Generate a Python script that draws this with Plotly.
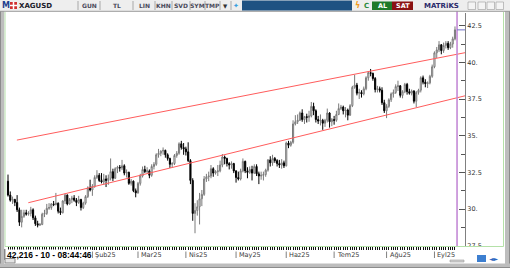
import plotly.graph_objects as go
import pandas as pd

# ---------------- data (XAGUSD daily) ----------------
dates = pd.bdate_range("2024-12-12", "2025-09-12")

opens = [31.90, 30.95, 30.60, 30.65, 30.45, 29.95, 29.10, 29.50, 29.75, 29.65, 29.70, 29.95, 29.40, 29.00,
         28.90, 28.95, 29.65, 29.70, 30.05, 30.10, 30.35, 30.30, 30.40, 29.85, 29.75, 30.55, 30.95, 30.35,
         30.65, 30.75, 30.60, 30.45, 30.65, 30.10, 30.40, 30.85, 31.45,
         31.30, 31.55, 32.15, 32.30, 31.95, 31.85, 32.05, 31.95, 32.10, 32.55, 32.10, 32.75, 32.85, 32.80,
         32.95, 32.45, 32.50, 31.75, 31.90, 31.25,
         31.10, 31.75, 32.25, 32.70, 32.55, 32.60, 32.30, 32.90, 33.05, 33.70, 33.80, 33.95, 34.00, 33.70,
         33.45, 33.05, 33.10, 33.65, 33.80, 34.45, 34.20,
         34.10, 33.90, 33.30, 31.95, 29.70, 29.90, 30.15, 30.70, 31.00, 32.05, 32.20, 32.25, 32.75, 32.45,
         32.55, 32.60, 33.00, 33.55, 33.45, 33.10, 33.00, 33.10,
         32.60, 32.15, 32.05, 32.60, 33.25, 32.60, 32.50, 32.70, 32.45, 32.90, 32.40, 32.25, 32.30, 32.35,
         32.65, 33.35, 33.15, 33.45, 33.30, 33.10, 33.00, 33.15,
         32.95, 34.50, 34.35, 34.55, 35.80, 35.95, 36.05, 36.55, 36.10, 36.30, 36.25, 36.35, 37.00, 36.70,
         36.10, 36.00, 36.05, 35.85, 36.05, 36.55, 35.95,
         36.10, 36.05, 36.45, 36.85, 36.95, 36.70, 36.75, 36.40, 37.05, 38.30, 38.45, 37.90, 37.95, 37.85,
         38.20, 38.95, 39.30, 39.25, 38.90, 38.15, 38.20, 38.10, 37.25,
         36.70, 37.00, 37.45, 37.85, 37.95, 38.35, 38.40, 37.75, 38.00, 38.50, 38.00, 37.90, 38.05, 37.35,
         37.95, 38.10, 38.95, 38.65, 38.55, 38.60, 39.05,
         39.70, 40.65, 40.85, 41.20, 40.80, 41.15, 41.30, 41.00, 41.25, 41.60]
highs = [32.35, 31.20, 30.85, 30.70, 30.95, 30.10, 29.95, 29.95, 29.95, 29.85, 30.15, 30.05, 29.55, 29.20,
         29.05, 29.75, 29.95, 30.35, 30.40, 30.40, 30.55, 31.10, 30.45, 30.10, 30.60, 31.05, 31.00, 30.75,
         30.90, 30.95, 30.75, 30.90, 30.70, 30.50, 30.95, 31.55, 32.00,
         31.70, 32.30, 32.65, 32.45, 32.45, 32.40, 32.30, 32.35, 33.45, 32.75, 32.85, 32.95, 33.00, 33.35,
         33.05, 32.70, 32.55, 32.05, 31.95, 31.40,
         31.85, 32.40, 32.90, 32.95, 32.85, 32.70, 33.05, 33.20, 33.80, 34.10, 34.00, 34.20, 34.05, 33.80,
         33.50, 33.20, 33.75, 33.95, 34.55, 34.65, 34.50,
         34.25, 34.55, 33.40, 32.10, 30.40, 30.60, 31.10, 31.30, 32.25, 32.40, 32.55, 33.00, 32.85, 32.65,
         33.00, 33.30, 33.75, 33.65, 33.50, 33.20, 33.25, 33.15,
         32.65, 32.55, 32.75, 33.45, 33.30, 32.85, 32.90, 32.95, 33.05, 33.05, 32.55, 32.55, 32.55, 32.75,
         33.40, 33.60, 33.70, 33.55, 33.40, 33.35, 33.40, 33.30,
         34.60, 34.65, 34.65, 36.05, 36.40, 36.45, 36.65, 36.80, 36.35, 36.50, 36.70, 37.30, 37.25, 36.80,
         36.35, 36.45, 36.15, 36.15, 36.85, 36.60, 36.20,
         36.35, 36.70, 37.20, 37.10, 37.05, 36.95, 36.85, 37.15, 38.40, 39.15, 38.60, 38.20, 38.10, 38.35,
         39.05, 39.40, 39.55, 39.30, 39.00, 38.40, 38.35, 38.30, 37.45,
         37.15, 37.55, 37.95, 38.15, 38.50, 38.75, 38.45, 38.10, 38.60, 38.60, 38.20, 38.15, 38.10, 38.05,
         38.20, 39.05, 39.10, 38.85, 38.70, 39.15, 39.85,
         40.75, 41.05, 41.45, 41.25, 41.35, 41.45, 41.45, 41.40, 41.75, 42.45]
lows = [30.85, 30.50, 30.35, 30.20, 29.80, 28.85, 28.75, 29.40, 29.55, 29.55, 29.50, 29.25, 28.85, 28.75,
        28.85, 28.90, 29.45, 29.60, 29.95, 29.95, 30.20, 30.25, 29.70, 29.60, 29.70, 30.35, 30.25, 30.30,
        30.40, 30.50, 30.20, 30.35, 29.90, 30.00, 30.30, 30.75, 31.20,
        30.90, 31.45, 32.05, 31.85, 31.75, 31.65, 31.50, 31.65, 31.95, 31.90, 32.05, 32.45, 32.55, 32.65,
        32.30, 32.15, 31.65, 31.60, 31.15, 30.80,
        31.05, 31.60, 32.15, 32.45, 32.40, 32.10, 32.20, 32.70, 32.95, 33.50, 33.60, 33.70, 33.50, 33.30,
        32.80, 32.85, 33.00, 33.50, 33.70, 34.05, 33.70,
        33.65, 33.20, 31.70, 29.20, 28.35, 29.55, 28.95, 30.20, 30.90, 31.85, 31.90, 32.10, 32.20, 32.35,
        32.25, 32.50, 32.85, 33.05, 32.90, 32.70, 32.75, 32.45,
        31.80, 31.95, 31.95, 32.50, 32.45, 32.10, 32.40, 31.95, 32.40, 32.25, 31.70, 32.00, 31.95, 32.20,
        32.55, 32.90, 32.95, 33.15, 32.90, 32.80, 32.75, 32.80,
        32.90, 34.15, 34.25, 34.45, 35.70, 35.80, 36.00, 35.95, 35.80, 35.90, 35.95, 36.25, 36.40, 35.90,
        35.80, 35.70, 35.40, 35.60, 35.90, 35.55, 35.65,
        35.75, 35.95, 36.40, 36.75, 36.45, 36.25, 36.05, 36.35, 36.95, 38.20, 37.75, 37.50, 37.60, 37.75,
        38.10, 38.75, 39.05, 38.75, 37.95, 37.95, 37.95, 37.10, 36.55,
        36.20, 36.90, 37.30, 37.60, 37.85, 38.05, 37.60, 37.55, 37.90, 37.80, 37.80, 37.75, 37.20, 36.95,
        37.80, 37.95, 38.50, 38.30, 38.25, 38.50, 38.95,
        39.60, 40.30, 40.70, 40.55, 40.65, 40.95, 40.85, 40.90, 41.00, 41.50]
closes = [30.95, 30.60, 30.65, 30.45, 29.95, 29.10, 29.50, 29.75, 29.65, 29.70, 29.95, 29.40, 29.00, 28.90,
          28.95, 29.65, 29.70, 30.05, 30.10, 30.35, 30.30, 30.40, 29.85, 29.75, 30.55, 30.95, 30.35, 30.65,
          30.75, 30.60, 30.45, 30.65, 30.10, 30.40, 30.85, 31.45, 31.30,
          31.55, 32.15, 32.30, 31.95, 31.85, 32.05, 31.95, 32.10, 32.55, 32.10, 32.75, 32.85, 32.80, 32.95,
          32.45, 32.50, 31.75, 31.90, 31.25, 31.10,
          31.75, 32.25, 32.70, 32.55, 32.60, 32.30, 32.90, 33.05, 33.70, 33.80, 33.95, 34.00, 33.70, 33.45,
          33.05, 33.10, 33.65, 33.80, 34.45, 34.20, 34.10,
          33.90, 33.30, 31.95, 29.70, 29.90, 30.15, 30.70, 31.00, 32.05, 32.20, 32.25, 32.75, 32.45, 32.55,
          32.60, 33.00, 33.55, 33.45, 33.10, 33.00, 33.10, 32.60,
          32.15, 32.05, 32.60, 33.25, 32.60, 32.50, 32.70, 32.45, 32.90, 32.40, 32.25, 32.30, 32.35, 32.65,
          33.35, 33.15, 33.45, 33.30, 33.10, 33.00, 33.15, 32.95,
          34.50, 34.35, 34.55, 35.80, 35.95, 36.05, 36.55, 36.10, 36.30, 36.25, 36.35, 37.00, 36.70, 36.10,
          36.00, 36.05, 35.85, 36.05, 36.55, 35.95, 36.10,
          36.05, 36.45, 36.85, 36.95, 36.70, 36.75, 36.40, 37.05, 38.30, 38.45, 37.90, 37.95, 37.85, 38.20,
          38.95, 39.30, 39.25, 38.90, 38.15, 38.20, 38.10, 37.25, 36.70,
          37.00, 37.45, 37.85, 37.95, 38.35, 38.40, 37.75, 38.00, 38.50, 38.00, 37.90, 38.05, 37.35, 37.95,
          38.10, 38.95, 38.65, 38.55, 38.60, 39.05, 39.70,
          40.65, 40.85, 41.20, 40.80, 41.15, 41.30, 41.00, 41.25, 41.60, 42.22]

# trend lines (bar index, price)
upper_x = [3.9, 200.4]
upper_y = [34.70, 40.66]
lower_x = [8.9, 200.4]
lower_y = [30.43, 37.72]

last_price = 42.216
cursor_bar = 196.9
y_ticks = [27.5, 30.0, 32.5, 35.0, 37.5, 40.0, 42.5]
y_ticktext = ["27.5", "30.", "32.5", "35.", "37.5", "40.", "42.5"]
month_tr = {1: "Oca", 2: "Şub", 3: "Mar", 4: "Nis", 5: "May", 6: "Haz",
            7: "Tem", 8: "Ağu", 9: "Eyl", 10: "Eki", 11: "Kas", 12: "Ara"}

# ---------------- layout geometry ----------------
W, H = 510, 268
L, R, T, B = 6, 45, 13, 22
PW, PH = W - L - R, H - T - B
X0, X1 = -0.877, 200.39


def px(x):
    return (x - L) / PW


def py(y):
    return (H - B - y) / PH


def bar_px(i):
    return L + (i - X0) / (X1 - X0) * PW


idx = list(range(len(dates)))
FONT = "DejaVu Sans"
GREEN = "#b4e1a8"

fig = go.Figure()
fig.add_trace(go.Candlestick(
    x=idx, open=opens, high=highs, low=lows, close=closes,
    increasing=dict(line=dict(color="#7a7a7a", width=1), fillcolor="#ffffff"),
    decreasing=dict(line=dict(color="#000000", width=1), fillcolor="#000000"),
    whiskerwidth=0, showlegend=False, hoverinfo="skip"))
for tx, ty in ((upper_x, upper_y), (lower_x, lower_y)):
    fig.add_trace(go.Scatter(x=tx, y=ty, mode="lines", line=dict(color="#ff5c5c", width=1),
                             showlegend=False, hoverinfo="skip"))

shapes = []
annotations = []


def rect(x0, y0, x1, y1, fill, line=None, lw=0):
    shapes.append(dict(type="rect", xref="paper", yref="paper", x0=px(x0), x1=px(x1), y0=py(y0), y1=py(y1),
                       fillcolor=fill, line=dict(color=line or fill, width=lw), layer="above"))


def hline(x0, x1, y, color, w=1):
    shapes.append(dict(type="line", xref="paper", yref="paper", x0=px(x0), x1=px(x1), y0=py(y), y1=py(y),
                       line=dict(color=color, width=w), layer="above"))


def vline(x, y0, y1, color, w=1):
    shapes.append(dict(type="line", xref="paper", yref="paper", x0=px(x), x1=px(x), y0=py(y0), y1=py(y1),
                       line=dict(color=color, width=w), layer="above"))


def text(x, y, s, size=7, color="#222", anchor="left", bold=False, family=FONT, bg=None):
    annotations.append(dict(xref="paper", yref="paper", x=px(x), y=py(y), text=("<b>%s</b>" % s) if bold else s,
                            showarrow=False, xanchor=anchor, yanchor="middle",
                            font=dict(family=family, size=size, color=color),
                            bgcolor=bg, borderpad=0))


# purple cursor line and last price marker
shapes.append(dict(type="line", xref="x", yref="paper", x0=cursor_bar, x1=cursor_bar, y0=0, y1=py(11),
                   line=dict(color="#c48ad6", width=1.6), layer="above"))
shapes.append(dict(type="line", xref="x", yref="y", x0=cursor_bar, x1=X1, y0=last_price, y1=last_price,
                   line=dict(color="#7070c8", width=1), layer="above"))

# cover lower half of the 27.5 label (separate time panel below)
rect(466, 246.6, 503, 262, "#ffffff")
# chart panel borders
hline(5, 503.5, 246.5, GREEN)
vline(5, 12, 246.5, GREEN)
vline(503.5, 12, 246.5, GREEN)

# month separators and labels (labels hidden behind the info box are skipped)
for i in idx:
    if i > 0 and dates[i].month != dates[i - 1].month:
        shapes.append(dict(type="line", xref="x", yref="paper", x0=i, x1=i, y0=py(251.5), y1=py(258),
                           line=dict(color="#808080", width=1), layer="above"))
        if bar_px(i) < 80:
            continue
        annotations.append(dict(xref="x", yref="paper", x=i, y=py(255), xshift=1,
                                text="%s%02d" % (month_tr[dates[i].month], dates[i].year % 100),
                                showarrow=False, xanchor="left", yanchor="middle",
                                font=dict(family=FONT, size=6.5, color="#3a3a3a")))

# info box bottom-left
rect(4.5, 249.5, 92, 259.5, "#ffffff")
vline(4.8, 249, 260, "#404040")
text(6, 254.5, "42,216 - 10 - 08:44:46", size=8.5, color="#000", bold=True, family="Liberation Sans")
rect(5, 258.5, 15, 263, "#e4e4e4", "#8a8a8a", 1)

# window frame
rect(0, 0, 4.2, 268, "#bdbdbd")
vline(0.5, 0, 268, "#8c8c8c")
rect(505, 0, 510, 268, "#bdbdbd")
vline(509.5, 0, 268, "#8c8c8c")
rect(0, 263.5, 510, 268, "#bdbdbd")
hline(0, 510, 267.5, "#8c8c8c")

# bottom-right icons
rect(477, 255, 486, 262, "#3d7fd0")
text(494.5, 258.5, "◄►", size=6, color="#2f66c0", anchor="center")
rect(450, 260, 464, 262, "#d0d0d0", "#9a9a9a", 0.6)

# ---------------- toolbar ----------------
rect(0, 0, 510, 11, "#eeeeee")
hline(0, 510, 11.3, "#9a9a9a")
text(5.5, 5.7, "M", size=8, color="#1f3f8f", anchor="center", bold=True)
rect(10, 2, 17, 9, "#d03030")
hline(10, 17, 5.5, "#ffffff", 1.5)
vline(13.5, 2, 9, "#ffffff", 1.5)
text(18, 5.7, "XAGUSD", size=7, color="#1a1a2a", bold=True)
for xs in (78, 100, 133, 155, 172, 190, 205, 220, 231):
    vline(xs, 1, 10, "#a8a8a8")
for cx, s in ((89, "GUN"), (116.5, "TL"), (144, "LIN"), (163.5, "KHN"), (181, "SVD"), (197.5, "SYM"),
              (212.5, "TMP")):
    text(cx, 5.8, s, size=6, color="#4a4a5a", anchor="center", bold=True)
text(225.5, 5.8, "▼", size=5.5, color="#333", anchor="center")
text(236, 5.8, "✦", size=7, color="#38a0e0", anchor="center")
rect(242, 0.5, 352, 10.5, "#1e5282")
text(357.5, 5.8, "ϟ", size=8, color="#f09a20", anchor="center", bold=True)
text(366.5, 5.8, "C", size=7, color="#2a8a3a", anchor="center", bold=True)
rect(372, 1.5, 392, 10, "#1f7a2a")
text(382, 5.8, "AL", size=6.5, color="#ffffff", anchor="center", bold=True)
rect(392, 1.5, 413, 10, "#8a1212")
text(402.5, 5.8, "SAT", size=6.5, color="#ffffff", anchor="center", bold=True)
text(441, 5.8, "MATRiKS", size=7, color="#2a2a6a", anchor="center", bold=True)
for bx in (468, 478, 487, 496):
    rect(bx, 2, bx + 7.5, 9.5, "#f4f4f4", "#9a9a9a", 0.6)

fig.update_layout(
    width=W, height=H, margin=dict(l=L, r=R, t=T, b=B, pad=0),
    paper_bgcolor="#ffffff", plot_bgcolor="#ffffff",
    shapes=shapes, annotations=annotations, showlegend=False,
    xaxis=dict(range=[X0, X1], tickvals=idx, ticks="outside", ticklen=3, tickwidth=1,
               tickcolor="#111111", showticklabels=False, showline=False, showgrid=False, zeroline=False,
               rangeslider=dict(visible=False), fixedrange=True),
    yaxis=dict(side="right", range=[27.48, 43.366], tickvals=y_ticks, ticktext=y_ticktext,
               ticks="inside", ticklen=6, tickwidth=1, tickcolor="#555555",
               showline=True, linecolor="#808080", linewidth=1, showgrid=False, zeroline=False,
               tickfont=dict(family=FONT, size=6.5, color="#333333"),
               minor=dict(ticks="inside", ticklen=4, tickcolor="#555555", dtick=1.25, tick0=27.5,
                          showgrid=False),
               fixedrange=True),
)

fig.write_html("out.html", config={"displayModeBar": False})
